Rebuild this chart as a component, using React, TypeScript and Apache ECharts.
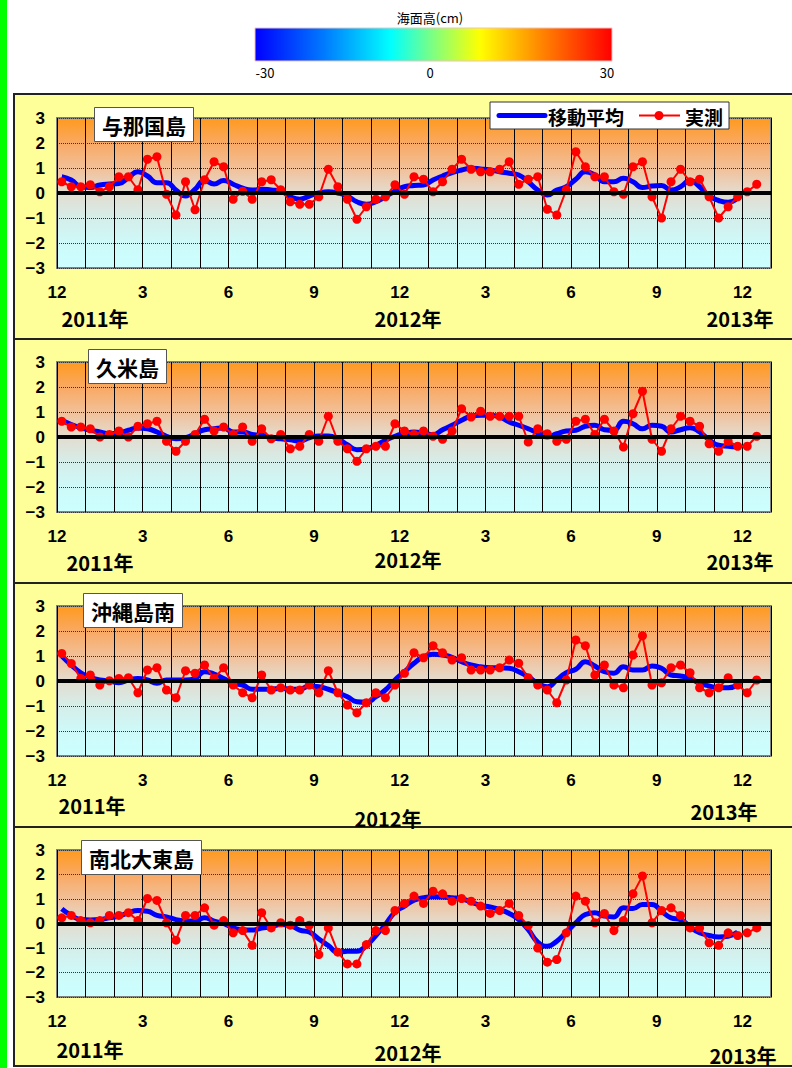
import React, { useEffect, useRef } from "react";
import * as echarts from "echarts";

// ---- data (dekadal sea level anomaly, as plotted) ----
const stationNames = ["与那国島", "久米島", "沖縄島南", "南北大東島"];
const monthTickLabels = ["12", "3", "6", "9", "12", "3", "6", "9", "12"];
const colorbarLabels = ["-30", "0", "30"];
const legendNames = ["移動平均", "実測"];

const yonaguniObs = [
  0.45, 0.25, 0.25, 0.33, 0.05, 0.25, 0.65, 0.65, 0.13, 1.35, 1.45, -0.05, -0.88, 0.45, -0.67, 0.53, 1.25, 1.05,
  -0.25, 0.07, -0.25, 0.45, 0.53, 0.13, -0.35, -0.45, -0.45, -0.15, 0.95, 0.25, -0.25, -1.05, -0.55, -0.25, -0.15, 0.33,
  -0.05, 0.65, 0.55, 0.05, 0.45, 0.95, 1.35, 0.95, 0.85, 0.85, 0.95, 1.25, 0.35, 0.55, 0.65, -0.65, -0.88, 0.13,
  1.65, 1.05, 0.65, 0.65, 0.05, -0.05, 1.05, 1.25, -0.15, -1.0, 0.45, 0.95, 0.45, 0.55, -0.15, -1.0, -0.55, -0.15, 0.05, 0.35,
];
const yonaguniMA = [
  0.65, 0.52, 0.25, 0.22, 0.32, 0.36, 0.38, 0.62, 0.85, 0.68, 0.41, 0.41, 0.12, -0.12, 0.15, 0.5, 0.36, 0.5,
  0.35, 0.19, 0.12, 0.15, 0.12, 0.08, -0.15, -0.25, -0.12, 0.0, 0.05, 0.0, -0.12, -0.35, -0.45, -0.35, -0.15, 0.08,
  0.25, 0.3, 0.32, 0.52, 0.68, 0.82, 0.92, 0.99, 0.96, 0.92, 0.85, 0.79, 0.72, 0.45, 0.12, -0.08, 0.12, 0.25,
  0.55, 0.85, 0.72, 0.45, 0.45, 0.59, 0.45, 0.22, 0.28, 0.3, 0.12, 0.25, 0.5, 0.25, -0.12, -0.3, -0.37, -0.2,
];

const kumeObs = [
  0.63, 0.4, 0.4, 0.33, 0.0, 0.1, 0.24, 0.0, 0.43, 0.53, 0.63, -0.17, -0.57, -0.17, 0.1, 0.71, 0.24, 0.4,
  0.1, 0.4, -0.17, 0.33, -0.07, 0.1, -0.47, -0.37, 0.1, -0.17, 0.83, -0.17, -0.47, -0.97, -0.47, -0.37, -0.37, 0.53,
  0.24, 0.1, 0.24, 0.03, -0.09, 0.24, 1.13, 0.8, 1.03, 0.83, 0.83, 0.83, 0.83, -0.2, 0.33, 0.13, -0.17, -0.09,
  0.63, 0.71, 0.1, 0.71, 0.24, -0.4, 0.93, 1.83, -0.09, -0.57, 0.33, 0.83, 0.63, 0.43, -0.27, -0.57, -0.17, -0.37, -0.37, 0.03,
];
const kumeMA = [
  0.67, 0.5, 0.37, 0.27, 0.2, 0.13, 0.16, 0.27, 0.36, 0.33, 0.2, 0.03, -0.07, -0.03, 0.13, 0.29, 0.33, 0.36,
  0.2, 0.2, 0.1, 0.07, -0.03, -0.07, -0.11, -0.16, -0.03, 0.04, 0.04, -0.07, -0.31, -0.51, -0.47, -0.33, -0.13, 0.03,
  0.13, 0.2, 0.16, 0.1, 0.29, 0.47, 0.67, 0.83, 0.87, 0.87, 0.8, 0.6, 0.47, 0.33, 0.16, 0.0, 0.13, 0.24,
  0.27, 0.43, 0.47, 0.29, 0.27, 0.63, 0.53, 0.33, 0.47, 0.43, 0.2, 0.29, 0.37, 0.2, -0.11, -0.33, -0.37, -0.4,
];

const okinawaSouthObs = [
  1.1, 0.7, 0.1, 0.24, -0.16, 0.01, 0.1, 0.13, -0.47, 0.44, 0.53, -0.36, -0.67, 0.41, 0.31, 0.64, 0.1, 0.53,
  -0.16, -0.47, -0.67, 0.24, -0.36, -0.27, -0.36, -0.36, -0.16, -0.47, 0.41, -0.47, -0.96, -1.27, -0.87, -0.47, -0.67, -0.16,
  0.31, 1.13, 0.93, 1.41, 1.13, 0.84, 0.93, 0.44, 0.44, 0.44, 0.53, 0.84, 0.71, 0.13, -0.16, -0.36, -0.87, 0.04,
  1.64, 1.41, 0.24, 0.64, -0.16, -0.27, 1.04, 1.81, -0.16, -0.07, 0.53, 0.64, 0.33, -0.27, -0.47, -0.27, 0.13, -0.16, -0.47, 0.04,
];
const okinawaSouthMA = [
  1.0, 0.64, 0.33, 0.15, 0.04, 0.0, -0.07, 0.04, 0.1, 0.04, -0.09, 0.04, 0.04, 0.04, 0.1, 0.37, 0.28, 0.1,
  -0.09, -0.16, -0.33, -0.33, -0.33, -0.29, -0.33, -0.33, -0.2, -0.23, -0.33, -0.47, -0.63, -0.83, -0.85, -0.63, -0.36, 0.04,
  0.37, 0.71, 0.97, 1.07, 1.04, 0.95, 0.77, 0.64, 0.57, 0.53, 0.53, 0.51, 0.37, 0.17, -0.09, -0.23, 0.04, 0.33,
  0.47, 0.77, 0.6, 0.37, 0.31, 0.57, 0.44, 0.44, 0.6, 0.51, 0.24, 0.2, 0.1, -0.09, -0.2, -0.27, -0.27, -0.16,
];

const minamiDaitoObs = [
  0.23, 0.33, 0.12, 0.03, 0.12, 0.33, 0.33, 0.44, 0.12, 1.02, 0.94, 0.03, -0.68, 0.33, 0.33, 0.64, -0.07, 0.12,
  -0.38, -0.29, -0.89, 0.44, -0.18, 0.03, -0.07, 0.12, -0.07, -1.27, -0.18, -1.17, -1.65, -1.65, -0.86, -0.29, -0.29, 0.53,
  0.82, 1.12, 0.82, 1.32, 1.21, 0.91, 1.02, 0.91, 0.71, 0.41, 0.53, 0.82, 0.33, -0.08, -1.0, -1.58, -1.47, -0.38,
  1.12, 0.91, 0.03, 0.41, -0.29, 0.12, 1.21, 1.94, 0.03, 0.53, 0.64, 0.33, -0.18, -0.18, -0.79, -0.89, -0.38, -0.49, -0.38, -0.18,
];
const minamiDaitoMA = [
  0.6, 0.33, 0.16, 0.14, 0.16, 0.23, 0.3, 0.44, 0.53, 0.5, 0.33, 0.27, 0.16, 0.1, 0.1, 0.23, 0.1, 0.0,
  -0.18, -0.25, -0.27, -0.18, -0.14, -0.04, -0.08, -0.27, -0.35, -0.63, -0.9, -1.17, -1.13, -1.13, -0.9, -0.49, -0.04, 0.46,
  0.71, 0.95, 1.05, 1.09, 1.08, 1.05, 1.01, 0.87, 0.74, 0.68, 0.57, 0.41, 0.16, -0.25, -0.76, -0.93, -0.72, -0.35,
  0.03, 0.37, 0.44, 0.3, 0.27, 0.64, 0.61, 0.78, 0.78, 0.5, 0.23, 0.16, -0.14, -0.38, -0.49, -0.55, -0.52, -0.35,
];

const observed = [yonaguniObs, kumeObs, okinawaSouthObs, minamiDaitoObs];
const movingAvg = [yonaguniMA, kumeMA, okinawaSouthMA, minamiDaitoMA];
const yearLabels = ["2011年", "2012年", "2013年"];

// ---- layout ----
const W = 792;
const H = 1068;
const panelBoxes = [
  [94, 339],
  [339, 583],
  [583, 827],
  [827, 1066],
];
const grids = [
  { top: 118, height: 150 },
  { top: 362, height: 150 },
  { top: 606, height: 150 },
  { top: 850, height: 147 },
];
const titleBoxes = [
  { left: 94, top: 107 },
  { left: 88, top: 349 },
  { left: 83, top: 593 },
  { left: 81, top: 840 },
];
const yearPos = [
  [[95, 318], [408, 318], [740, 318]],
  [[100, 562], [408, 559], [740, 561]],
  [[92, 805], [388, 818], [724, 811]],
  [[90, 1049], [408, 1052], [743, 1055]],
];

// dekad centre (month index from Dec 2011) for point index i
const dekadX = (i: number) => i / 3 + 1 / 6;

const NUM_FONT = "'Liberation Sans', Arial, 'Noto Sans CJK JP', sans-serif";
const JP_FONT = "'Noto Sans CJK JP', 'Liberation Sans', sans-serif";

function buildOption() {
  const plotBg = new echarts.graphic.LinearGradient(0, 0, 0, 1, [
    { offset: 0, color: "#FF9A1E" },
    { offset: 0.17, color: "#F9A963" },
    { offset: 0.34, color: "#F1C19A" },
    { offset: 0.5, color: "#E3DCCF" },
    { offset: 0.67, color: "#D5EEEA" },
    { offset: 0.84, color: "#CDFAF9" },
    { offset: 1, color: "#CCFFFF" },
  ]);

  const grid = grids.map((g) => ({
    left: 57,
    width: 714,
    top: g.top,
    height: g.height,
    show: true,
    backgroundColor: plotBg,
    borderColor: "#808080",
    borderWidth: 2,
  }));

  const xAxis = grids.map((_, k) => ({
    type: "value",
    gridIndex: k,
    min: 0,
    max: 25,
    interval: 1,
    axisLine: { show: false },
    axisTick: { show: false },
    splitLine: { show: true, lineStyle: { color: "#000", width: 1, type: "solid" } },
    axisLabel: {
      show: true,
      showMinLabel: true,
      showMaxLabel: true,
      margin: 16,
      fontSize: 17,
      fontWeight: "bold",
      fontFamily: NUM_FONT,
      color: "#000",
      formatter: (v: number) => (v % 3 === 0 && v / 3 < monthTickLabels.length ? monthTickLabels[v / 3] : ""),
    },
  }));

  const yAxis = grids.map((_, k) => ({
    type: "value",
    gridIndex: k,
    min: -3,
    max: 3,
    interval: 1,
    axisLine: { show: false },
    axisTick: { show: false },
    splitLine: { show: true, lineStyle: { color: "#333", width: 1, type: "dotted" } },
    axisLabel: {
      margin: 12,
      fontSize: 17,
      fontWeight: "bold",
      fontFamily: NUM_FONT,
      color: "#000",
      formatter: (v: number) => (v < 0 ? "\u2212" + Math.abs(v) : String(v)),
    },
  }));

  const series: any[] = [];
  grids.forEach((_, k) => {
    series.push({
      type: "line",
      xAxisIndex: k,
      yAxisIndex: k,
      data: [],
      silent: true,
      z: 2,
      markLine: {
        silent: true,
        symbol: "none",
        label: { show: false },
        lineStyle: { color: "#000", width: 4, type: "solid" },
        data: [{ yAxis: 0 }],
      },
    });
    series.push({
      name: legendNames[0],
      type: "line",
      xAxisIndex: k,
      yAxisIndex: k,
      smooth: 0.5,
      symbol: "none",
      showSymbol: false,
      lineStyle: { color: "#0000FF", width: 5 },
      itemStyle: { color: "#0000FF" },
      data: movingAvg[k].map((v, i) => [dekadX(i), v]),
      z: 3,
    });
    series.push({
      name: legendNames[1],
      type: "line",
      xAxisIndex: k,
      yAxisIndex: k,
      symbol: "circle",
      symbolSize: 9,
      showSymbol: true,
      lineStyle: { color: "#FF0000", width: 2 },
      itemStyle: { color: "#FF0000" },
      data: observed[k].map((v, i) => [dekadX(i), v]),
      z: 4,
    });
  });

  const title = stationNames.map((name, k) => ({
    text: name,
    left: titleBoxes[k].left,
    top: titleBoxes[k].top,
    backgroundColor: "#FFFFFF",
    borderColor: "#555",
    borderWidth: 1,
    padding: [6, 8],
    textStyle: {
      fontSize: 21,
      fontWeight: "bold",
      fontFamily: JP_FONT,
      color: "#000",
      lineHeight: 23,
    },
    z: 10,
  }));

  const graphic: any[] = [];
  // green strip on left
  graphic.push({ type: "rect", z: -20, shape: { x: 0, y: 0, width: 7, height: H }, style: { fill: "#00FF00" } });
  // panel boxes
  panelBoxes.forEach(([t, b]) => {
    graphic.push({
      type: "rect",
      z: -10,
      shape: { x: 14, y: t, width: W, height: b - t },
      style: { fill: "#FFFF99", stroke: "#222", lineWidth: 2 },
    });
  });
  // colour bar
  graphic.push({
    type: "rect",
    z: 5,
    shape: { x: 255, y: 28, width: 357, height: 33 },
    style: {
      fill: new echarts.graphic.LinearGradient(0, 0, 1, 0, [
        { offset: 0, color: "#0000FF" },
        { offset: 0.19, color: "#0078FF" },
        { offset: 0.38, color: "#00FFFF" },
        { offset: 0.5, color: "#80FF80" },
        { offset: 0.63, color: "#FFFF00" },
        { offset: 0.81, color: "#FF8000" },
        { offset: 1, color: "#FF0000" },
      ]),
      stroke: "#F0C0C0",
      lineWidth: 1,
    },
  });
  graphic.push({
    type: "text",
    z: 5,
    x: 430,
    y: 17,
    style: { text: "海面高(cm)", fill: "#000", font: `13px ${JP_FONT}`, align: "center", verticalAlign: "middle" },
  });
  const cbX = [265, 430, 607];
  colorbarLabels.forEach((t, i) => {
    graphic.push({
      type: "text",
      z: 5,
      x: cbX[i],
      y: 72,
      style: { text: t, fill: "#000", font: `13px ${JP_FONT}`, align: "center", verticalAlign: "middle" },
    });
  });
  // year labels
  yearPos.forEach((row) => {
    row.forEach(([x, y], j) => {
      graphic.push({
        type: "text",
        z: 5,
        x,
        y,
        style: {
          text: yearLabels[j],
          fill: "#000",
          font: `bold 20px ${JP_FONT}`,
          align: "center",
          verticalAlign: "middle",
        },
      });
    });
  });
  // legend box (panel 1)
  graphic.push({
    type: "rect",
    z: 20,
    shape: { x: 490, y: 102, width: 239, height: 27 },
    style: { fill: "#FFFFFF", stroke: "#333", lineWidth: 1 },
  });
  graphic.push({
    type: "line",
    z: 21,
    shape: { x1: 499, y1: 115.5, x2: 545, y2: 115.5 },
    style: { stroke: "#0000FF", lineWidth: 5, lineCap: "round" },
  });
  graphic.push({
    type: "text",
    z: 21,
    x: 548,
    y: 116,
    style: { text: legendNames[0], fill: "#000", font: `bold 19px ${JP_FONT}`, align: "left", verticalAlign: "middle" },
  });
  graphic.push({
    type: "line",
    z: 21,
    shape: { x1: 639, y1: 115.5, x2: 680, y2: 115.5 },
    style: { stroke: "#FF0000", lineWidth: 2 },
  });
  graphic.push({
    type: "circle",
    z: 22,
    shape: { cx: 659, cy: 115.5, r: 4.5 },
    style: { fill: "#FF0000" },
  });
  graphic.push({
    type: "text",
    z: 21,
    x: 685,
    y: 116,
    style: { text: legendNames[1], fill: "#000", font: `bold 19px ${JP_FONT}`, align: "left", verticalAlign: "middle" },
  });

  return {
    animation: false,
    backgroundColor: "#FFFFFF",
    title,
    grid,
    xAxis,
    yAxis,
    series,
    graphic,
  };
}

export default function App() {
  const ref = useRef<HTMLDivElement>(null);
  useEffect(() => {
    if (!ref.current) return;
    const chart = echarts.init(ref.current, undefined, { renderer: "svg" });
    chart.setOption(buildOption() as any);
    return () => chart.dispose();
  }, []);
  return <div ref={ref} style={{ position: "absolute", left: 0, top: 0, width: W, height: H }} />;
}
